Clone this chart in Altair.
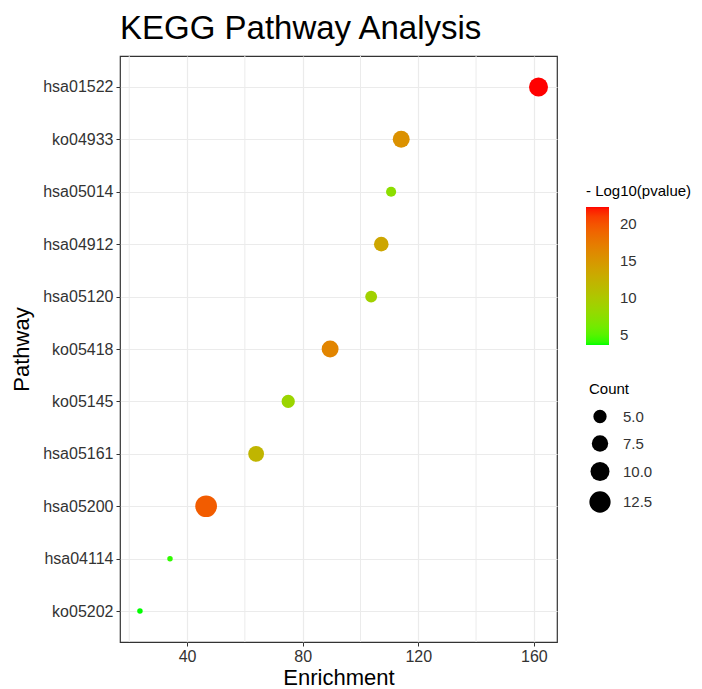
import altair as alt
import pandas as pd

# KEGG pathway enrichment results
pathways = ["hsa01522", "ko04933", "hsa05014", "hsa04912", "hsa05120",
            "ko05418", "ko05145", "hsa05161", "hsa05200", "hsa04114", "ko05202"]
enrichment = [161.6, 114.1, 110.6, 107.2, 103.7, 89.5, 75.0, 63.9, 46.6, 34.1, 23.7]
neg_log10_p = [22.3, 15.5, 7.5, 13.5, 9.0, 16.5, 8.5, 12.0, 19.5, 4.0, 3.6]
counts = [10, 8, 3, 6, 4, 8, 5, 7, 13, 1, 1]

df = pd.DataFrame({
    "Pathway": pathways,
    "Enrichment": enrichment,
    "logp": neg_log10_p,
    "Count": counts,
})

FONT = "Liberation Sans"

points = alt.Chart(df).mark_circle(opacity=1).encode(
    x=alt.X("Enrichment:Q",
            scale=alt.Scale(domain=[16.8, 168], nice=False, zero=False),
            axis=alt.Axis(values=[40, 80, 120, 160], title="Enrichment")),
    y=alt.Y("Pathway:N", sort=pathways,
            scale=alt.Scale(padding=0.59),
            axis=alt.Axis(title="Pathway", grid=True, ticks=True, tickSize=4,
                          tickColor="#333333", tickWidth=1)),
    color=alt.Color("logp:Q",
                    scale=alt.Scale(domain=[3.6, 22.3], range=["#00FF00", "#FF0000"],
                                    interpolate="lab", nice=False, zero=False),
                    legend=alt.Legend(title="- Log10(pvalue)", values=[5, 10, 15, 20],
                                      gradientLength=138, gradientThickness=23,
                                      orient="none", legendX=466, legendY=128,
                                      gradientStrokeWidth=0, labelOffset=11)),
    size=alt.Size("Count:Q",
                  scale=alt.Scale(domain=[1, 13], range=[30, 470], zero=False, nice=False),
                  legend=alt.Legend(title="Count", values=[5, 7.5, 10, 12.5], format=".1f",
                                    symbolFillColor="black", symbolStrokeWidth=0,
                                    symbolOpacity=1, orient="none",
                                    legendX=469, legendY=326, rowPadding=10,
                                    titlePadding=12, labelOffset=12)),
)

# minor vertical grid lines between the labelled ticks
minor = alt.Chart(pd.DataFrame({"m": [20, 60, 100, 140]})).mark_rule(
    color="#EBEBEB", strokeWidth=1
).encode(x=alt.X("m:Q"))

chart = alt.layer(minor, points).properties(
    width=437, height=586,
    autosize=alt.AutoSizeParams(type="none"),
    padding={"left": 120, "top": 56, "right": 145, "bottom": 47},
    title=alt.Title("KEGG Pathway Analysis", anchor="start", frame="group",
                    fontSize=33, font=FONT, fontWeight="normal", color="black",
                    offset=10),
).configure_view(
    stroke="#333333", strokeWidth=1.2
).configure_axis(
    labelFont=FONT, titleFont=FONT, labelFontSize=16, titleFontSize=22,
    labelColor="#333333", titleColor="black", titleFontWeight="normal",
    gridColor="#EBEBEB", gridWidth=1.2, domain=False,
    tickColor="#333333", tickSize=4, labelPadding=3,
).configure_axisX(
    titlePadding=3, labelPadding=2
).configure_axisY(
    titlePadding=9
).configure_legend(
    titleFont=FONT, labelFont=FONT, titleFontSize=15, labelFontSize=15,
    titleFontWeight="normal", titleColor="black", labelColor="#333333",
    titlePadding=8,
)

chart.save("out.html", embed_options={"renderer": "svg", "actions": False})
